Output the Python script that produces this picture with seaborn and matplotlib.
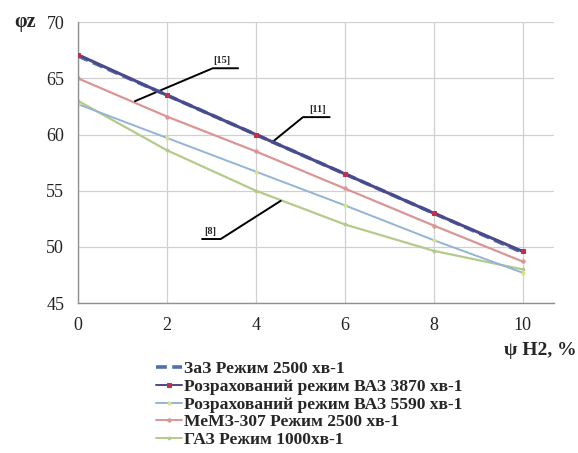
import matplotlib
matplotlib.use("Agg")
import matplotlib.pyplot as plt
import seaborn as sns
import pandas as pd

x_vals = [0, 2, 4, 6, 8, 10]
zaz = [67.0, 63.5, 60.0, 56.5, 53.0, 49.5]
vaz3870 = [67.1, 63.5, 60.0, 56.5, 53.0, 49.6]
vaz5590 = [62.7, 59.7, 56.7, 53.7, 50.6, 47.7]
memz = [65.0, 61.6, 58.5, 55.2, 51.9, 48.7]
gaz = [63.0, 58.6, 55.0, 52.0, 49.65, 48.0]

names = ["ЗаЗ Режим 2500 хв-1",
         "Розрахований режим ВАЗ 3870 хв-1",
         "Розрахований режим ВАЗ 5590 хв-1",
         "МеМЗ-307 Режим 2500 хв-1",
         "ГАЗ Режим 1000хв-1"]
series = [zaz, vaz3870, vaz5590, memz, gaz]

rows = []
for n, s in zip(names, series):
    for xv, yv in zip(x_vals, s):
        rows.append({"x": xv, "y": yv, "series": n})
df = pd.DataFrame(rows)

sns.set_style("white")
plt.rcParams['font.family'] = ['Liberation Serif', 'DejaVu Serif']

fig = plt.figure(figsize=(5.78, 4.53), dpi=100)
ax = fig.add_axes([0.135, 0.331, 0.823, 0.620])

styles = {
    names[0]: dict(color="#4F6FB0", lw=2.6, dashes=(3, 1.5), marker=None),
    names[1]: dict(color="#4A4A8C", lw=2.2, marker="s", ms=3.2, mfc="#C0304D", mec="#C0304D"),
    names[2]: dict(color="#95B3D7", lw=1.4, marker="o", ms=2.2, mfc="#D8E28A", mec="#D8E28A"),
    names[3]: dict(color="#D99694", lw=1.6, marker="o", ms=2.4, mfc="#D99694", mec="#D99694"),
    names[4]: dict(color="#B3CB8A", lw=1.6, marker="o", ms=2.0, mfc="#B3CB8A", mec="#B3CB8A"),
}

order = [names[0], names[4], names[2], names[3], names[1]]
handles = {}
for n in order:
    st = styles[n]
    sub = df[df["series"] == n]
    kw = dict(color=st["color"], linewidth=st["lw"])
    if st.get("marker"):
        kw.update(marker=st["marker"], markersize=st["ms"],
                  markerfacecolor=st["mfc"], markeredgecolor=st["mec"])
    sns.lineplot(data=sub, x="x", y="y", ax=ax, **kw)
    line = ax.lines[-1]
    if n == names[0]:
        line.set_dashes(st["dashes"])
        line.set_zorder(3)
    handles[n] = line
handles[names[1]].set_zorder(4)

ax.set_xlim(0, 10.7)
ax.set_ylim(45, 70)
ax.set_xticks([0, 2, 4, 6, 8, 10])
ax.set_yticks([45, 50, 55, 60, 65, 70])
ax.grid(True, color="#D0D0D0", linewidth=0.9)
for sp in ["top", "right"]:
    ax.spines[sp].set_visible(False)
for sp in ["left", "bottom"]:
    ax.spines[sp].set_color("#909090")
    ax.spines[sp].set_linewidth(1.0)
ax.tick_params(axis="both", labelsize=13, colors="#222222", length=4,
               direction="out", width=1, pad=6)
ax.tick_params(axis="both", color="#909090")
ax.set_xlabel("")
ax.set_ylabel("")

fig.text(0.024, 0.952, "φz", fontsize=14.5, fontweight="bold", ha="left", va="center")
fig.text(0.998, 0.227, "ψ H2, %", fontsize=14, fontweight="bold", ha="right", va="center")

# reference annotations
ann = dict(color="black", linewidth=1.4, clip_on=False)
ax.plot([1.28, 3.03, 3.6], [62.97, 65.9, 65.9], **ann)
ax.text(3.24, 66.2, "[15]", fontsize=7.5, fontweight="bold", ha="center", va="bottom")
ax.plot([4.36, 5.06, 5.66], [59.3, 61.55, 61.55], **ann)
ax.text(5.39, 61.85, "[11]", fontsize=7.5, fontweight="bold", ha="center", va="bottom")
ax.plot([4.56, 3.21, 2.79], [54.1, 50.7, 50.7], **ann)
ax.text(2.97, 51.0, "[8]", fontsize=7.5, fontweight="bold", ha="center", va="bottom")

leg_handles = [handles[n] for n in names]
leg = fig.legend(leg_handles, names, loc="upper left", bbox_to_anchor=(0.255, 0.222),
                 frameon=False, prop={"family": "Liberation Serif", "weight": "bold", "size": 12.6},
                 labelspacing=0.08, handlelength=1.5, handletextpad=0.1, borderpad=0.0)
leg_lws = [2.6, 1.4, 1.4, 1.4, 1.4]
for lh, lw in zip(leg.get_lines(), leg_lws):
    lh.set_linewidth(lw)

fig.savefig("out.png", dpi=100)
